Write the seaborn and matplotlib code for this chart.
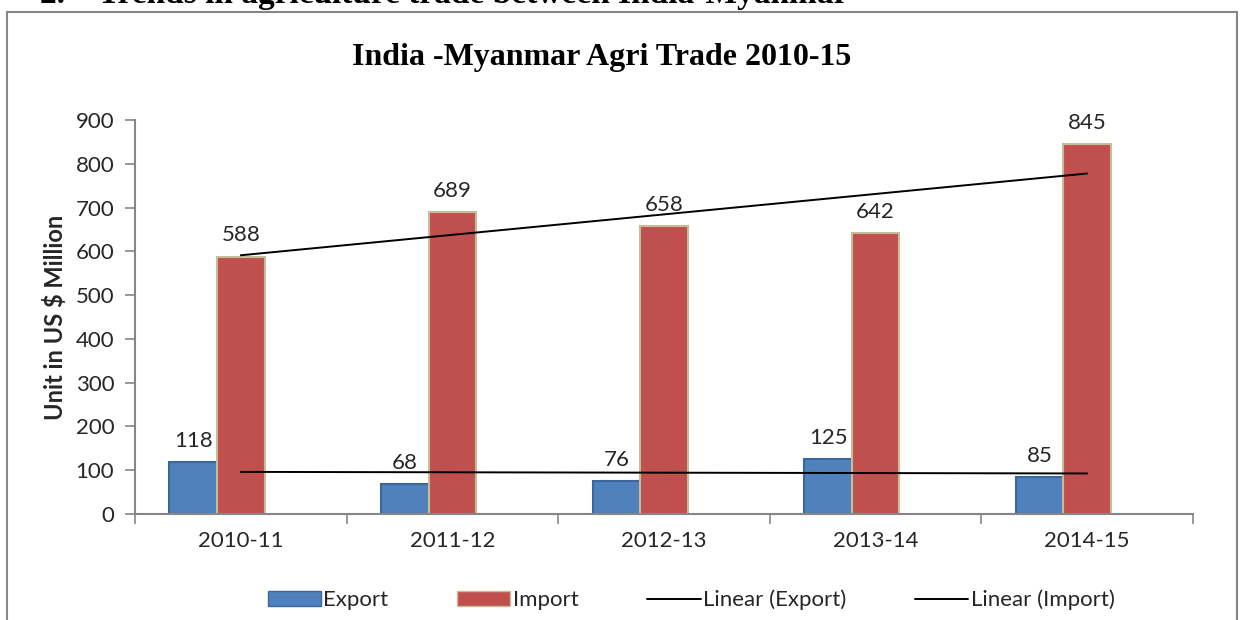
import pandas as pd
import numpy as np
import matplotlib.pyplot as plt
import matplotlib.patches as mpatches
from matplotlib.lines import Line2D
import seaborn as sns

# Data
years = ["2010-11", "2011-12", "2012-13", "2013-14", "2014-15"]
export = [118, 68, 76, 125, 85]
imports = [588, 689, 658, 642, 845]

df = pd.DataFrame({
    "Year": years * 3,
    "Series": ["Export"] * 5 + ["Import"] * 5 + ["blank"] * 5,
    "Value": export + imports + [0] * 5,
})

sns.set_theme(style="white")
plt.rcParams["font.family"] = ["Lato", "DejaVu Sans"]

fig = plt.figure(figsize=(12.45, 6.2), dpi=100)
ax = fig.add_axes([135 / 1245, 1 - 514 / 620, 1058 / 1245, 394 / 620])

sns.barplot(
    data=df, x="Year", y="Value", hue="Series",
    hue_order=["Export", "Import", "blank"],
    palette=["#4F81BD", "#C0504D", "#FFFFFF"], saturation=1,
    width=0.674, dodge=True, errorbar=None, legend=False, ax=ax,
)

edges = ["#3A679C", "#C4BD97"]
for cont, ec in zip(ax.containers[:2], edges):
    for bar in cont:
        bar.set_edgecolor(ec)
        bar.set_linewidth(1.5)
    ax.bar_label(cont, padding=8, fontsize=16)
for bar in ax.containers[2]:
    bar.set_visible(False)

# linear trend lines
xs = np.arange(len(years))
for vals in (export, imports):
    sns.regplot(x=xs, y=np.array(vals, dtype=float), ax=ax, scatter=False,
                ci=None, truncate=True, color="black", line_kws={"linewidth": 1.4})

ax.set_xlim(-0.5, 4.5)
ax.set_ylim(0, 900)
ax.set_yticks(range(0, 901, 100))
ax.set_xticks(xs)
ax.set_xticklabels(years)
ax.set_xticks(np.arange(-0.5, 5, 1), minor=True)
ax.tick_params(axis="x", which="major", length=0, labelsize=16, pad=12)
ax.tick_params(axis="x", which="minor", length=7, width=1.2, color="#868686", direction="out")
ax.tick_params(axis="y", length=7, width=1.2, color="#868686", direction="out", labelsize=16, pad=8)
ax.tick_params(bottom=True, left=True, which="both")
for s in ["top", "right"]:
    ax.spines[s].set_visible(False)
for s in ["left", "bottom"]:
    ax.spines[s].set_color("#868686")
    ax.spines[s].set_linewidth(1.5)

ax.set_xlabel("")
ax.set_ylabel("Unit in US $ Million", fontsize=17, fontweight="bold", labelpad=6)

fig.text(602 / 1245, 1 - 58 / 620, "India -Myanmar Agri Trade 2010-15",
         ha="center", va="center", fontsize=23, fontweight="bold",
         family="Liberation Serif", color="black")

# partially cut section heading at the very top
fig.text(40 / 1245, 1 - 3 / 620, "2.    Trends in agriculture trade between India-Myanmar",
         ha="left", va="baseline", fontsize=24, fontweight="bold",
         family="Liberation Serif", color="black")

# chart border
fig.patches.append(mpatches.Rectangle((7 / 1245, -0.05), 1230 / 1245, 1.05 - 12 / 620,
                                      transform=fig.transFigure, fill=False,
                                      edgecolor="#868686", linewidth=1.5))

handles = [
    mpatches.Patch(facecolor="#4F81BD", edgecolor="#3A679C", label="Export"),
    mpatches.Patch(facecolor="#C0504D", edgecolor="#C4BD97", label="Import"),
    Line2D([], [], color="black", linewidth=1.4, label="Linear (Export)"),
    Line2D([], [], color="black", linewidth=1.4, label="Linear (Import)"),
]
fig.legend(handles=handles, loc="center", bbox_to_anchor=(0.555, 1 - 600 / 620),
           ncol=4, frameon=False, fontsize=16, handlelength=2.4,
           handletextpad=0.1, columnspacing=3.1)

plt.savefig("out.png", dpi=100)
